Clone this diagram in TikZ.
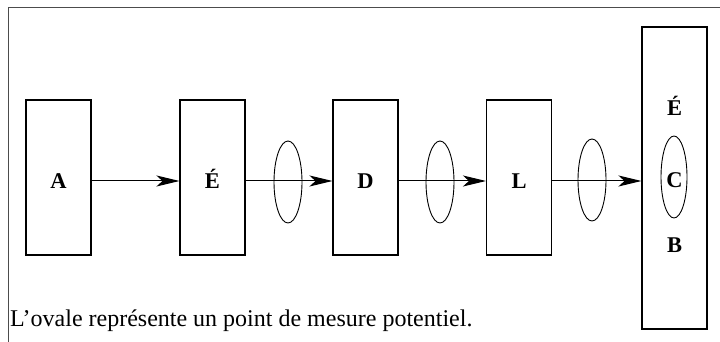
\documentclass[tikz,border=0pt]{standalone}
\usepackage{fontspec}
\setmainfont{Liberation Serif}
\usetikzlibrary{shapes.geometric,arrows.meta}
\begin{document}
\begin{tikzpicture}[x=1pt,y=1pt,
  blockbox/.style={draw, line width=1.1pt, minimum width=65pt, minimum height=155pt, inner sep=0pt},
  lbl/.style={font=\fontsize{22.5}{26}\selectfont\bfseries, inner sep=0pt},
  oval/.style={draw, ellipse, line width=0.9pt, minimum width=28pt, minimum height=82pt, inner sep=0pt},
  flow/.style={line width=1pt, -{Stealth[length=23pt,width=11pt,inset=6pt]}}]
\useasboundingbox (0,0) rectangle (720,342);
% partial frame
\coordinate (ftl) at (8,334);
\coordinate (ftr) at (720,334);
\coordinate (fbl) at (8,0);
\draw[line width=1pt, black!70] (ftr) -- (ftl) -- (fbl);
% boxes
\node[blockbox] (A) at (58.5,164.5) {};
\node[blockbox] (E) at (212.5,164.5) {};
\node[blockbox] (D) at (365.5,164.5) {};
\node[blockbox] (L) at (519,164.5) {};
\node[blockbox, minimum height=302pt] (R) at (674.5,164) {};
% labels
\node[lbl] (tA) at (58.5,161) {A};
\node[lbl] (tE) at (212.5,163) {É};
\node[lbl] (tD) at (365.5,161) {D};
\node[lbl] (tL) at (519,161) {L};
\node[lbl] (tRE) at (674.5,236) {É};
\node[lbl] (tRC) at (674.5,162) {C};
\node[lbl] (tRB) at (674.5,97) {B};
% arrows
\draw[flow] ([yshift=-3.5pt]A.east) -- ([yshift=-3.5pt]E.west);
\draw[flow] ([yshift=-3.5pt]E.east) -- ([yshift=-3.5pt]D.west);
\draw[flow] ([yshift=-3.5pt]D.east) -- ([yshift=-3.5pt]L.west);
\draw[flow] ([yshift=-3.5pt]L.east) -- ([yshift=-3pt]R.west);
% ovals
\node[oval] (o1) at (288,160) {};
\node[oval] (o2) at (440,160) {};
\node[oval] (o3) at (592,162) {};
\node[oval, minimum width=26pt] (o4) at (674,165) {};
% caption
\node[anchor=base west, inner sep=0pt, font=\fontsize{24}{28}\selectfont] (cap) at (10,15) {L’ovale représente un point de mesure potentiel.};
\end{tikzpicture}
\end{document}
